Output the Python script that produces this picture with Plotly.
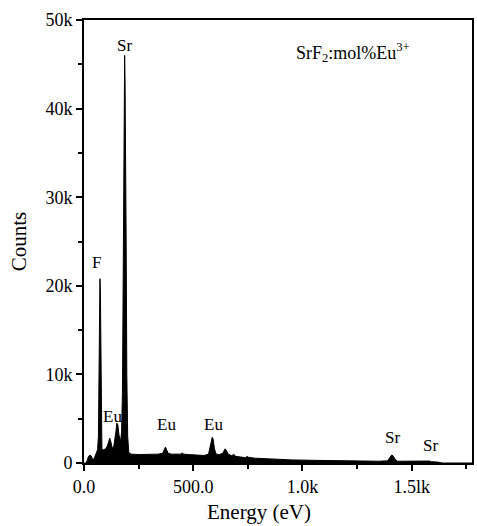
import plotly.graph_objects as go

energy = [0, 10, 15, 20, 27, 33, 38, 43, 48, 53, 58, 62, 66, 69, 71, 73, 75, 77, 79, 82, 90, 100,
          108, 113, 118, 123, 129, 136, 141, 146, 150, 155, 160, 165, 169, 172, 176, 179, 182, 184,
          186, 188, 190, 193, 196, 200, 205, 215, 250, 300, 340, 360, 368, 373, 378, 385, 400, 430,
          445, 450, 455, 480, 520, 550, 570, 578, 583, 587, 591, 597, 605, 620, 635, 642, 646, 652,
          660, 675, 686, 695, 720, 740, 745, 752, 780, 850, 950, 1050, 1150, 1250, 1350, 1390, 1400,
          1408, 1415, 1425, 1435, 1500, 1560, 1572, 1580, 1590, 1620, 1640, 1790]
counts = [0, 0, 300, 700, 900, 800, 500, 400, 600, 900, 1300, 1500, 3000, 12000, 19000, 20800, 19500,
          10000, 2500, 1500, 1500, 1600, 2000, 2600, 2800, 2400, 1700, 1800, 2500, 3500, 4500, 4300,
          3200, 2600, 2800, 3500, 8000, 25000, 40000, 44000, 46000, 43000, 38000, 25000, 10000, 3000,
          1200, 1000, 950, 950, 1000, 1100, 1500, 1800, 1500, 1100, 1000, 950, 1000, 1150, 1000, 950,
          900, 850, 1000, 2000, 2800, 2900, 2700, 1600, 1000, 950, 1100, 1500, 1600, 1400, 1000, 850,
          950, 750, 650, 600, 750, 650, 550, 450, 350, 300, 260, 230, 200, 250, 600, 900, 800, 400,
          200, 180, 150, 220, 230, 150, 100, 0, 0]

peak_labels = ["Sr", "F", "Eu", "Eu", "Eu", "Sr", "Sr"]
peak_x = [186, 55, 132, 377, 595, 1414, 1586]
peak_y = [47100, 22600, 5300, 4400, 4400, 2900, 2000]

x_tickvals = [0, 500, 1000, 1500]
x_ticktext = ["0.0", "500.0", "1.0k", "1.5lk"]
y_tickvals = [0, 10000, 20000, 30000, 40000, 50000]
y_ticktext = ["0", "10k", "20k", "30k", "40k", "50k"]

font = "Liberation Serif"

fig = go.Figure()
fig.add_trace(go.Scatter(x=energy, y=counts, mode="lines", fill="tozeroy",
                         line=dict(color="black", width=1), fillcolor="black",
                         showlegend=False, hoverinfo="skip"))

for t, x, y in zip(peak_labels, peak_x, peak_y):
    fig.add_annotation(x=x, y=y, text=t, showarrow=False,
                       font=dict(family=font, size=17, color="black"))

fig.add_annotation(x=1232, y=46300, text="SrF<sub>2</sub>:mol%Eu<sup>3+</sup>", showarrow=False,
                   font=dict(family=font, size=18, color="black"))

fig.add_annotation(x=0.451, y=0, xref="paper", yref="paper", yshift=-49,
                   text="Energy (eV)", showarrow=False, yanchor="middle",
                   font=dict(family=font, size=21, color="black"))

fig.update_layout(
    width=477, height=526,
    margin=dict(l=84, r=3, t=20, b=63),
    plot_bgcolor="white", paper_bgcolor="white",
    font=dict(family=font, size=17, color="black"),
)
fig.update_xaxes(range=[0, 1776], tickvals=x_tickvals, ticktext=x_ticktext,
                 ticks="outside", ticklen=6, tickwidth=1.5, tickcolor="black",
                 minor=dict(tickvals=[250, 750, 1250, 1750], ticks="outside", ticklen=4, tickcolor="black", tickwidth=1.5),
                 showline=True, linecolor="black", linewidth=2, mirror=True,
                 showgrid=False, zeroline=False,
                 tickfont=dict(family=font, size=18))
fig.update_yaxes(range=[0, 50000], tickvals=y_tickvals, ticktext=y_ticktext,
                 ticks="outside", ticklen=6, tickwidth=1.5, tickcolor="black",
                 minor=dict(tickvals=[5000, 15000, 25000, 35000, 45000], ticks="outside", ticklen=4, tickcolor="black", tickwidth=1.5),
                 showline=True, linecolor="black", linewidth=2, mirror=True,
                 showgrid=False, zeroline=False,
                 title=dict(text="Counts", font=dict(family=font, size=21), standoff=13),
                 tickfont=dict(family=font, size=18))

fig.write_html("out.html", config={"displayModeBar": False},
               post_script="document.body.style.margin='0';document.body.style.overflow='hidden';")
